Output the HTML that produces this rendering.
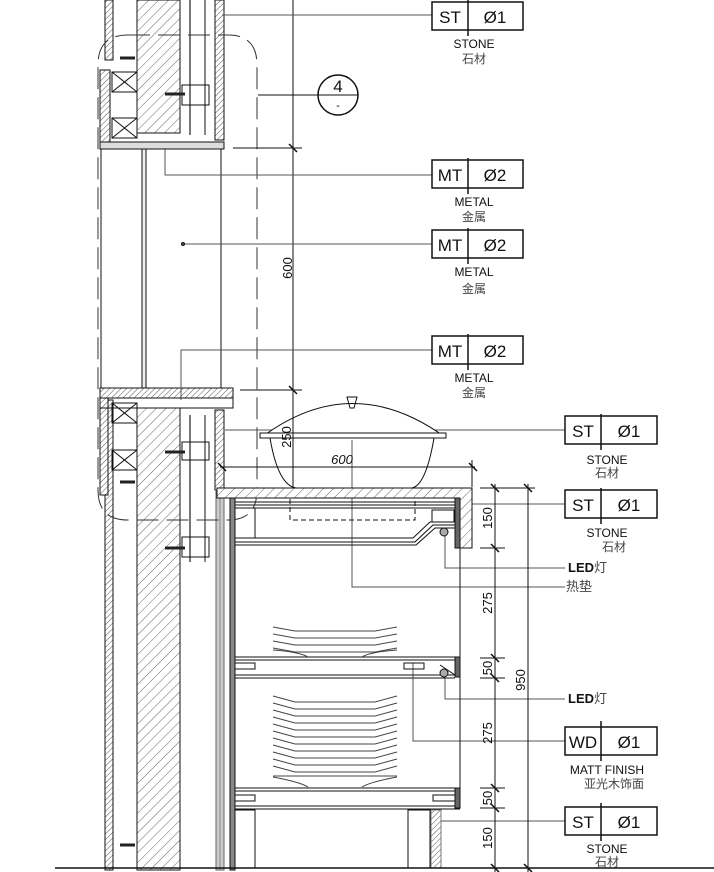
<!DOCTYPE html>
<html><head><meta charset="utf-8"><style>
html,body{margin:0;padding:0;background:#fff;width:714px;height:872px;overflow:hidden}
svg{display:block}
.t{font-family:"Liberation Sans","Noto Sans CJK SC",sans-serif;fill:#111}
.c{font-family:"Noto Sans CJK SC","WenQuanYi Zen Hei",sans-serif;fill:#444}
</style></head><body>
<svg width="714" height="872" viewBox="0 0 714 872" xmlns="http://www.w3.org/2000/svg">
<defs>
<pattern id="h" width="7" height="7" patternUnits="userSpaceOnUse" patternTransform="rotate(45)">
<rect width="7" height="7" fill="#fff"/><line x1="0" y1="0" x2="0" y2="7" stroke="#666" stroke-width="1"/></pattern>
<pattern id="h2" width="4" height="4" patternUnits="userSpaceOnUse" patternTransform="rotate(45)">
<rect width="4" height="4" fill="#fff"/><line x1="0" y1="0" x2="0" y2="4" stroke="#555" stroke-width="1"/></pattern>
</defs>
<g stroke="#111" fill="none" stroke-width="1">
<rect x="105" y="0" width="8" height="60" fill="url(#h2)"/>
<rect x="105" y="400" width="8" height="470" fill="url(#h2)"/>
<rect x="137" y="0" width="43" height="133" fill="url(#h)"/>
<rect x="137" y="408" width="43" height="462" fill="url(#h)"/>
<rect x="215" y="0" width="9" height="140" fill="url(#h2)"/>
<rect x="215" y="410" width="9" height="80" fill="url(#h2)"/>
<line x1="190" y1="0" x2="190" y2="135" stroke="#777" stroke-width="2"/>
<line x1="205" y1="0" x2="205" y2="135"/>
<line x1="190" y1="415" x2="190" y2="562" stroke="#777" stroke-width="2"/>
<line x1="205" y1="415" x2="205" y2="562"/>
<rect x="100" y="70" width="10" height="75" fill="url(#h2)"/>
<rect x="112" y="72" width="25" height="20"/><path d="M112 72L137 92M137 72L112 92"/>
<rect x="112" y="118" width="25" height="20"/><path d="M112 118L137 138M137 118L112 138"/>
<rect x="100" y="142" width="124" height="7" fill="#ddd"/>
<rect x="182" y="85" width="27" height="20"/>
<rect x="100" y="390" width="8" height="105" fill="url(#h2)"/>
<rect x="112" y="403" width="25" height="20"/><path d="M112 403L137 423M137 403L112 423"/>
<rect x="112" y="450" width="25" height="20"/><path d="M112 450L137 470M137 450L112 470"/>
<rect x="182" y="442" width="27" height="18"/>
<rect x="182" y="537" width="27" height="20"/>
<line x1="101" y1="149" x2="101" y2="388"/>
<line x1="221" y1="149" x2="221" y2="388"/>
<rect x="142" y="149" width="4" height="240" fill="#eee"/>
<rect x="100" y="388" width="133" height="10" fill="url(#h2)"/>
<rect x="100" y="398" width="133" height="10"/>
<g stroke="#222" stroke-width="3"><line x1="165" y1="94" x2="185" y2="94"/><line x1="165" y1="452" x2="185" y2="452"/><line x1="165" y1="548" x2="185" y2="548"/>
<line x1="120" y1="58" x2="135" y2="58"/><line x1="120" y1="482" x2="135" y2="482"/><line x1="120" y1="845" x2="135" y2="845"/></g>
<rect x="216" y="490" width="8" height="380" fill="#ccc" stroke="#666"/>
<line x1="220" y1="490" x2="220" y2="870" stroke="#888"/>
<path d="M128 35H228Q257 35 257 65V490Q257 520 228 520H128Q98 520 98 490V65Q98 35 128 35Z" stroke="#333" stroke-dasharray="22 8"/>
<line x1="258" y1="95" x2="318" y2="95"/>
<circle cx="338" cy="95" r="20" stroke-width="1.5"/><line x1="318" y1="95" x2="358" y2="95"/>
<line x1="293" y1="0" x2="293" y2="392"/>
<line x1="233" y1="148" x2="302" y2="148"/><line x1="240" y1="390" x2="302" y2="390"/>
<path d="M289 144L297 152M289 386L297 394" stroke-width="1.5"/>
<g stroke="#555"><line x1="222" y1="15" x2="432" y2="15"/>
<path d="M165 148V175H432"/><line x1="183" y1="244" x2="432" y2="244"/>
<path d="M181 400V350H432"/>
<line x1="225" y1="430" x2="565" y2="430"/><line x1="466" y1="504" x2="565" y2="504"/>
<path d="M445 535V568H565"/><path d="M352 440V587H565"/>
<path d="M445 678V699H565"/><path d="M413 663V741H565"/><line x1="436" y1="821" x2="565" y2="821"/></g>
<circle cx="183" cy="244" r="1.5" fill="#555"/>
<path d="M262 437Q352 370 445 437Z" fill="#fff"/>
<rect x="260" y="433" width="186" height="5" fill="#fff"/>
<path d="M347 397H357L354 408H350Z"/>
<path d="M270 438Q278 485 296 488H412Q426 485 434 438"/>
<line x1="220" y1="467" x2="475" y2="467"/><path d="M218 463L226 471M469 463L477 471" stroke-width="1.5"/>
<line x1="472" y1="460" x2="472" y2="487"/>
<line x1="293" y1="392" x2="293" y2="490"/>
<path d="M217 488H472V548H455V498H217Z" fill="url(#h)"/>
<rect x="290" y="498" width="125" height="22" stroke-dasharray="5 3"/>
<rect x="230" y="498" width="5" height="372" fill="#888"/>
<line x1="460" y1="498" x2="460" y2="808"/>
<rect x="455" y="498" width="5" height="50" fill="#666"/>
<path d="M235 502H455M235 505H455M235 508H455"/>
<rect x="235" y="508" width="20" height="30"/>
<path d="M235 538H413L430 522H455M235 542H415L433 525H455M235 545H416L435 528H455"/>
<rect x="432" y="510" width="22" height="12"/>
<circle cx="444" cy="532" r="4" fill="#aaa"/>
<path d="M235 657H460M235 660H460M235 675H455L440 665M235 678H455"/>
<rect x="235" y="663" width="20" height="6"/><rect x="404" y="663" width="20" height="6"/>
<rect x="455" y="657" width="5" height="20" fill="#666"/>
<circle cx="444" cy="673" r="4" fill="#aaa"/>
<path d="M235 788H460M235 791H460M235 806H460M235 809H460"/>
<rect x="235" y="795" width="20" height="6"/><rect x="433" y="795" width="22" height="6"/>
<rect x="455" y="788" width="5" height="20" fill="#666"/>
<rect x="235" y="810" width="20" height="58"/><rect x="408" y="810" width="22" height="58"/>
<rect x="431" y="810" width="10" height="58" fill="url(#h2)" stroke="#777"/>
<g stroke="#444"><path d="M273 627L295 631H375L397 627M273 634L295 638H375L397 634M273 641L295 645H375L397 641M273 648L295 652H375L397 648"/>
<path d="M273 650Q300 652 308 657M397 650Q370 652 362 657"/>
<path d="M273 696L295 702H375L397 696M273 703L295 709H375L397 703M273 710L295 716H375L397 710M273 717L295 723H375L397 717M273 724L295 730H375L397 724M273 731L295 737H375L397 731M273 738L295 744H375L397 738M273 745L295 751H375L397 745M273 752L295 758H375L397 752M273 759L295 765H375L397 759M273 766L295 772H375L397 766"/>
<path d="M273 777Q300 782 308 787M397 777Q370 782 362 787M273 776H397"/></g>
<line x1="495" y1="484" x2="495" y2="872"/><line x1="528" y1="484" x2="528" y2="872"/>
<path d="M480 488H535M480 548H505M480 658H505M480 678H505M480 788H505M480 808H505M470 868H714" />
<line x1="55" y1="868" x2="714" y2="868" stroke-width="1.5"/>
<path d="M491 484L499 492M524 484L532 492M491 544L499 552M491 654L499 662M491 674L499 682M491 784L499 792M491 804L499 812M491 864L499 872M524 864L532 872" stroke-width="1.5"/>
<g stroke-width="1.5">
<rect x="432" y="2" width="91" height="28"/><line x1="468" y1="0" x2="468" y2="36"/>
<rect x="432" y="160" width="91" height="28"/><line x1="468" y1="158" x2="468" y2="194"/>
<rect x="432" y="230" width="91" height="28"/><line x1="468" y1="228" x2="468" y2="264"/>
<rect x="432" y="336" width="91" height="28"/><line x1="468" y1="334" x2="468" y2="370"/>
<rect x="565" y="416" width="92" height="28"/><line x1="601" y1="414" x2="601" y2="450"/>
<rect x="565" y="490" width="92" height="28"/><line x1="601" y1="488" x2="601" y2="524"/>
<rect x="565" y="727" width="92" height="28"/><line x1="601" y1="721" x2="601" y2="761"/>
<rect x="565" y="807" width="92" height="28"/><line x1="601" y1="803" x2="601" y2="841"/>
</g>
</g>
<g class="t" font-size="17" text-anchor="middle">
<text x="450" y="23">ST</text><text x="495" y="23">Ø1</text>
<text x="450" y="181">MT</text><text x="495" y="181">Ø2</text>
<text x="450" y="251">MT</text><text x="495" y="251">Ø2</text>
<text x="450" y="357">MT</text><text x="495" y="357">Ø2</text>
<text x="583" y="437">ST</text><text x="629" y="437">Ø1</text>
<text x="583" y="511">ST</text><text x="629" y="511">Ø1</text>
<text x="583" y="748">WD</text><text x="629" y="748">Ø1</text>
<text x="583" y="828">ST</text><text x="629" y="828">Ø1</text>
</g>
<g class="t" font-size="12" text-anchor="middle">
<text x="474" y="48">STONE</text><text x="474" y="206">METAL</text><text x="474" y="276">METAL</text><text x="474" y="382">METAL</text>
<text x="607" y="464">STONE</text><text x="607" y="537">STONE</text><text x="607" y="774">MATT FINISH</text><text x="607" y="853">STONE</text>
</g>
<g class="c" font-size="12" text-anchor="middle">
<text x="474" y="63">石材</text><text x="474" y="221">金属</text><text x="474" y="293">金属</text><text x="474" y="397">金属</text>
<text x="607" y="477">石材</text><text x="614" y="551">石材</text><text x="614" y="788">亚光木饰面</text><text x="607" y="866">石材</text>
</g>
<text x="568" y="572" class="t" font-size="13" font-weight="bold">LED<tspan class="c" font-weight="normal">灯</tspan></text>
<text x="566" y="591" class="c" font-size="13">热垫</text>
<text x="568" y="703" class="t" font-size="13" font-weight="bold">LED<tspan class="c" font-weight="normal">灯</tspan></text>
<g class="t" font-size="13" fill="#333">
<text x="338" y="92" text-anchor="middle" font-size="17">4</text>
<text x="338" y="109" text-anchor="middle" font-size="11">-</text>
<text x="342" y="464" text-anchor="middle" font-style="italic">600</text>
<text transform="translate(292,268) rotate(-90)" text-anchor="middle">600</text>
<text transform="translate(291,437) rotate(-90)" text-anchor="middle">250</text>
<text transform="translate(492,518) rotate(-90)" text-anchor="middle">150</text>
<text transform="translate(492,603) rotate(-90)" text-anchor="middle">275</text>
<text transform="translate(492,668) rotate(-90)" text-anchor="middle">50</text>
<text transform="translate(492,733) rotate(-90)" text-anchor="middle">275</text>
<text transform="translate(492,798) rotate(-90)" text-anchor="middle">50</text>
<text transform="translate(492,838) rotate(-90)" text-anchor="middle">150</text>
<text transform="translate(525,680) rotate(-90)" text-anchor="middle">950</text>
</g>
</svg>
</body></html>
